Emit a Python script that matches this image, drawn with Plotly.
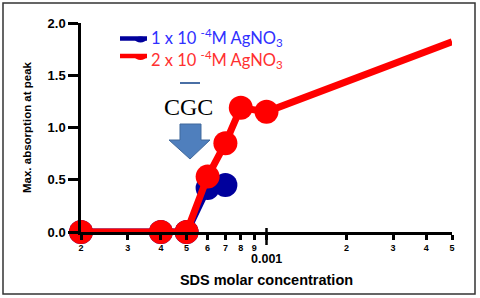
import plotly.graph_objects as go
import numpy as np

# ---- data ----
conc_blue = [2e-4, 4e-4, 5e-4, 6e-4, 7e-4]
abs_blue = [0.0, 0.0, 0.0, 0.42, 0.45]
conc_red = [2e-4, 4e-4, 5e-4, 6e-4, 7e-4, 8e-4, 1e-3, 5e-3]
abs_red = [0.0, 0.0, 0.0, 0.53, 0.85, 1.19, 1.15, 1.82]

x_tickvals = [2e-4, 3e-4, 4e-4, 5e-4, 6e-4, 7e-4, 8e-4, 9e-4, 1e-3, 2e-3, 3e-3, 4e-3, 5e-3]
x_ticktext = ["2", "3", "4", "5", "6", "7", "8", "9", "", "2", "3", "4", "5"]
y_tickvals = [0.0, 0.5, 1.0, 1.5, 2.0]
y_ticktext = ["0.0", "0.5", "1.0", "1.5", "2.0"]
legend_labels = ["1 x 10 <sup>-4</sup>M AgNO<sub>3</sub>", "2 x 10 <sup>-4</sup>M AgNO<sub>3</sub>"]

BLUE = "#00009c"
RED = "#ff0000"
LEG_TEXT = ["#3030ff", "#ff3030"]

W, H = 480, 298
L, R, T, B = 81, 28, 23, 66
PW, PH = W - L - R, H - T - B


def px(X):
    return (X - L) / PW


def py(Y):
    return (H - B - Y) / PH


fig = go.Figure()

fig.add_trace(go.Scatter(
    x=conc_blue, y=abs_blue, mode="lines+markers",
    line=dict(color=BLUE, width=7), marker=dict(color=BLUE, size=24),
    cliponaxis=False, showlegend=False))
fig.add_trace(go.Scatter(
    x=conc_red, y=abs_red, mode="lines+markers",
    line=dict(color=RED, width=7), marker=dict(color=RED, size=24),
    cliponaxis=False, showlegend=False))

fig.update_layout(
    template="none",
    width=W, height=H,
    margin=dict(l=L, r=R, t=T, b=B, pad=0, autoexpand=False),
    paper_bgcolor="white", plot_bgcolor="white",
    font=dict(family="Liberation Sans, Arial", color="black"),
    showlegend=False,
    xaxis=dict(type="log", range=[np.log10(2e-4), np.log10(5e-3)], automargin=False,
               tickmode="array", tickvals=x_tickvals, ticktext=["<b>%s</b>" % t if t else " " for t in x_ticktext],
               ticks="outside", ticklen=5, tickwidth=2.5, tickcolor="black",
               showline=True, linecolor="black", linewidth=2.5,
               showgrid=False, zeroline=False,
               tickfont=dict(size=9, color="black"),
               title=dict(text="<b>SDS molar concentration</b>", font=dict(size=14.5), standoff=24)),
    yaxis=dict(range=[0, 2.0], tickmode="array", tickvals=y_tickvals, automargin=False,
               ticktext=["<b>%s</b>" % t for t in y_ticktext],
               ticks="outside", ticklen=10, tickwidth=2.5, tickcolor="black",
               showline=True, linecolor="black", linewidth=2.5,
               showgrid=False, zeroline=False,
               tickfont=dict(size=13, color="black"),
               title=dict(text="<b>Max. absorption at peak</b>", font=dict(size=11.5), standoff=14)),
)

# legend drawn as decorations
leg_line = [38.5, 56]
leg_text = [37.5, 59]
for i, lab in enumerate(legend_labels):
    yl = leg_line[i]
    col = [BLUE, RED][i]
    fig.add_shape(type="line", xref="paper", yref="paper", x0=px(120), x1=px(147),
                  y0=py(yl), y1=py(yl), line=dict(color=col, width=4.5))
    fig.add_shape(type="circle", xref="paper", yref="paper", x0=px(135), x1=px(146),
                  y0=py(yl - 2), y1=py(yl + 4), fillcolor=col, line=dict(width=0))
    fig.add_annotation(x=px(149), y=py(leg_text[i]), xref="paper", yref="paper", text=lab,
                       xanchor="left", yanchor="middle", showarrow=False,
                       font=dict(family="Lato, Open Sans", size=16.5, color=LEG_TEXT[i]))

# long tick at 0.001 and its label
fig.add_shape(type="line", xref="x", yref="paper", x0=1e-3, x1=1e-3,
              y0=py(228), y1=py(245), line=dict(color="black", width=2.5))
fig.add_annotation(x=np.log10(1e-3), xref="x", yref="paper", y=py(259),
                   text="<b>0.001</b>", showarrow=False, font=dict(size=12.5, color="black"),
                   xanchor="center", yanchor="middle")

# CGC label, dash and arrow
fig.add_annotation(x=px(188), y=py(107), xref="paper", yref="paper", text="CGC",
                   xanchor="center", yanchor="middle",
                   showarrow=False, font=dict(family="Liberation Serif, Times New Roman", size=24, color="black"))
fig.add_shape(type="line", xref="paper", yref="paper", x0=px(180), x1=px(200), y0=py(83), y1=py(83),
              line=dict(color="#4a6fa5", width=2))
arrow = [(180, 124), (201, 124), (201, 140), (210, 140), (190, 159), (169, 140), (180, 140)]
path = "M " + " L ".join("%f,%f" % (px(a), py(b)) for a, b in arrow) + " Z"
fig.add_shape(type="path", xref="paper", yref="paper", path=path,
              fillcolor="#4f7fbd", line=dict(color="#41699c", width=1))

# outer border
fig.add_shape(type="rect", xref="paper", yref="paper", x0=px(3), x1=px(475), y0=py(3), y1=py(294),
              line=dict(color="#333333", width=1.5))

fig.write_html("out.html", config={"displayModeBar": False},
               post_script="document.body.style.margin='0';document.body.style.overflow='hidden';")
